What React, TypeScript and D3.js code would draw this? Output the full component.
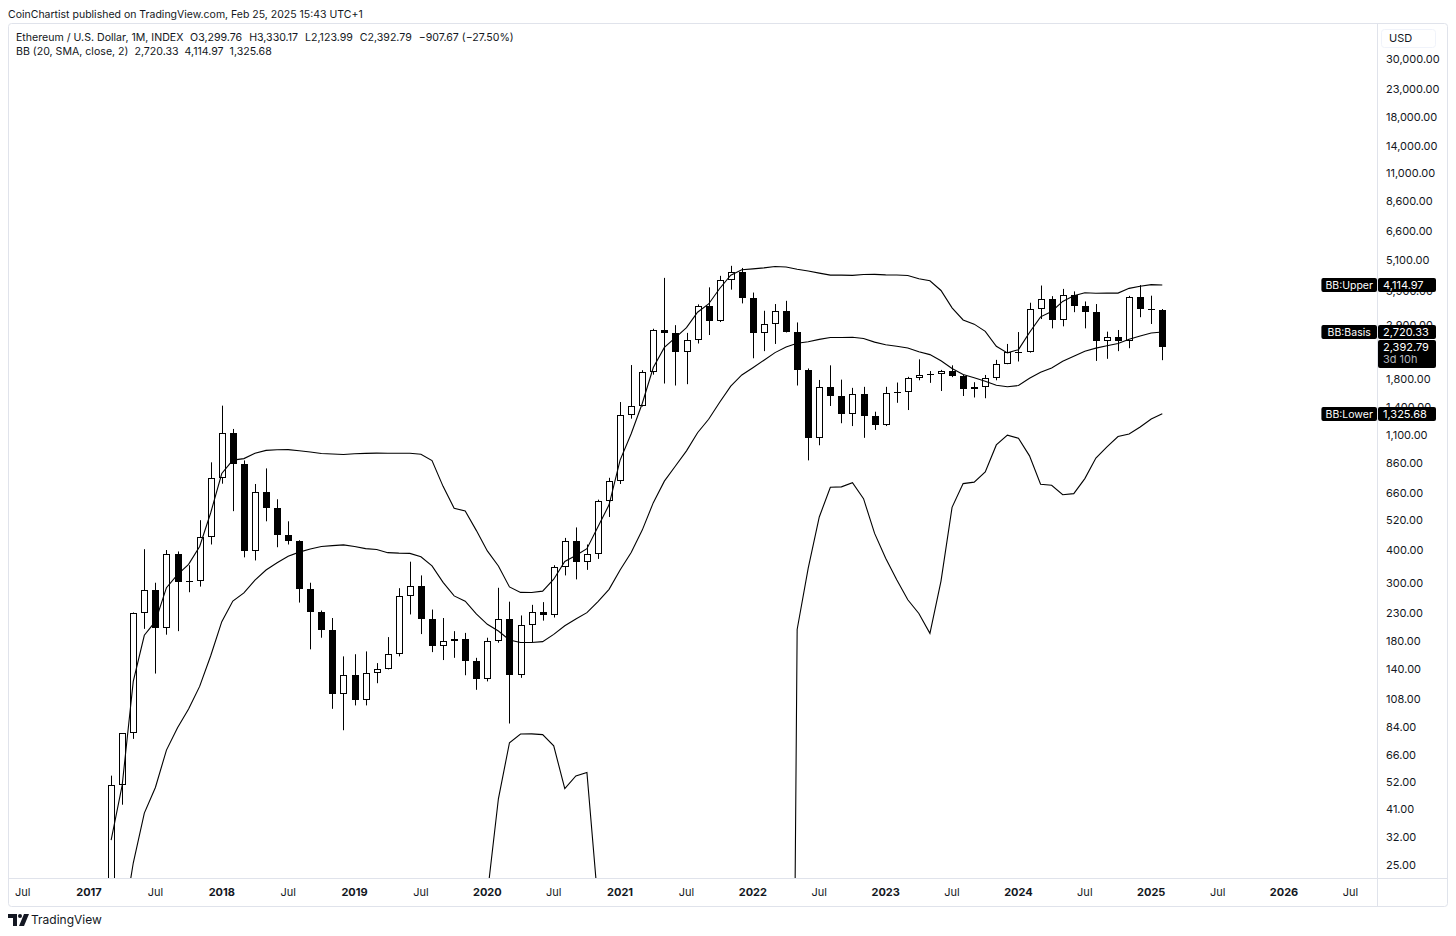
import React from "react";
import * as d3 from "d3";

// Monthly ETH/USD INDEX candles, first bar = Aug 2015
const FIRST_YEAR = 2015;
const FIRST_MONTH = 8;

const opens = [
  2.77, 1.35, 0.73, 0.9, 0.87,
  0.93, 2.17, 6.36, 11.41, 8.83, 14.16, 12.29, 12.5, 11.29, 13.17, 11.36, 8.8,
  8.17, 10.71, 15.79, 50.6, 79.8, 230, 282, 201, 387, 302, 305, 447,
  756, 1118, 855, 395, 669, 578, 455, 433, 283, 232, 198, 113,
  133, 107, 136, 141, 161, 268, 291, 218, 172, 180, 183, 151,
  129, 179, 218, 133, 206, 231, 226, 346, 434, 360, 386, 614,
  737, 1314, 1416, 1918, 2773, 2707, 2275, 2536, 3433, 3001, 4288, 4631,
  3683, 2688, 2922, 3282, 2727, 1942, 1067, 1678, 1553, 1328, 1572, 1296,
  1196, 1585, 1605, 1822, 1869, 1874, 1934, 1856, 1645, 1671, 1815, 2052,
  2282, 2283, 3340, 3646, 3014, 3762, 3432, 3232, 2513, 2603, 2519, 3706,
  3335, 3299.76,
];
const highs = [
  3.54, 1.4, 1.18, 1.05, 0.99,
  2.5, 6.7, 15.07, 11.76, 14.8, 21.52, 14.86, 12.6, 14.56, 13.26, 11.5, 9.2,
  11.5, 16.6, 55, 80, 231, 403, 300, 400, 395, 350, 520, 865,
  1424, 1160, 880, 715, 820, 625, 515, 436, 300, 235, 220, 157,
  160, 164, 148, 186, 286, 361, 320, 237, 220, 196, 193, 155,
  185, 287, 254, 225, 247, 253, 350, 445, 488, 420, 623, 755,
  1470, 2035, 1945, 2800, 4380, 2890, 2700, 3470, 4030, 4460, 4870, 4780,
  3850, 3280, 3480, 3580, 2960, 1975, 1785, 2030, 1790, 1665, 1680, 1350,
  1680, 1745, 1835, 2140, 1930, 1950, 2030, 1870, 1750, 1865, 2130, 2450,
  2720, 3520, 4095, 3730, 3975, 3890, 3560, 3480, 2730, 2770, 3740, 4110,
  3745, 3330.17,
];
const lows = [
  0.7, 0.58, 0.42, 0.77, 0.8,
  0.93, 2.1, 6.3, 6.97, 8.7, 10.8, 10.4, 10.5, 11.2, 10.4, 8.5, 6.34,
  7.9, 10.5, 15.5, 42.6, 76, 200, 135, 190, 196, 276, 290, 420,
  717, 563, 375, 365, 515, 410, 420, 252, 167, 185, 99, 82,
  102, 102, 124, 140, 157, 227, 191, 163, 152, 155, 133, 117,
  126, 177, 87, 130, 178, 215, 221, 320, 309, 336, 370, 535,
  715, 1270, 1413, 1870, 1730, 1700, 1720, 2460, 2650, 2970, 3950, 3500,
  2160, 2300, 2450, 2710, 1700, 880, 1005, 1420, 1220, 1190, 1073, 1150,
  1190, 1460, 1370, 1780, 1740, 1620, 1830, 1550, 1530, 1520, 1780, 2050,
  2100, 2270, 3050, 2810, 2860, 3240, 2810, 2110, 2150, 2300, 2360, 3100,
  2920, 2123.99,
];
const closes = [
  1.35, 0.73, 0.9, 0.87, 0.93,
  2.17, 6.36, 11.41, 8.83, 14.16, 12.29, 12.5, 11.29, 13.17, 11.36, 8.8, 8.17,
  10.71, 15.79, 50.6, 79.8, 230, 282, 201, 387, 302, 305, 447, 756,
  1118, 855, 395, 669, 578, 455, 433, 283, 232, 198, 113, 133,
  107, 136, 141, 161, 268, 291, 218, 172, 180, 183, 151, 129,
  179, 218, 133, 206, 231, 226, 346, 434, 360, 386, 614, 737,
  1314, 1416, 1918, 2773, 2707, 2275, 2536, 3433, 3001, 4288, 4631, 3683,
  2688, 2922, 3282, 2727, 1942, 1067, 1678, 1553, 1328, 1572, 1296, 1196,
  1585, 1605, 1822, 1869, 1874, 1934, 1856, 1645, 1671, 1815, 2052, 2282,
  2283, 3340, 3646, 3014, 3762, 3432, 3232, 2513, 2603, 2519, 3706, 3335,
  3299.76, 2392.79,
];

// Bollinger Bands settings from the legend: BB (20, SMA, close, 2)
const BB_LENGTH = 20;
const BB_MULT = 2;
const bbLegendValues = [2720.33, 4114.97, 1325.68]; // basis, upper, lower
const bbLabelNames = ["BB:Upper", "BB:Basis", "BB:Lower"];

const headerText = "CoinChartist published on TradingView.com, Feb 25, 2025 15:43 UTC+1";
const symbolText = "Ethereum / U.S. Dollar, 1M, INDEX";
const ohlcText = ["O3,299.76", "H3,330.17", "L2,123.99", "C2,392.79", "\u2212907.67 (\u221227.50%)"];
const bbText = "BB (20, SMA, close, 2)";
const countdownText = "3d 10h";

const yTickValues = [30000, 23000, 18000, 14000, 11000, 8600, 6600, 5100, 3900, 2900, 2300,
  1800, 1400, 1100, 860, 660, 520, 400, 300, 230, 180, 140, 108, 84, 66, 52, 41, 32, 25];

const xTickLabels = ["Jul", "2017", "Jul", "2018", "Jul", "2019", "Jul", "2020", "Jul", "2021",
  "Jul", "2022", "Jul", "2023", "Jul", "2024", "Jul", "2025", "Jul", "2026", "Jul"];
const X_TICK_FIRST_INDEX = 11; // Jul 2016
const X_TICK_STEP = 6;

const FONT = "Inter, 'Noto Sans', sans-serif";
const TXT = "#131722";

export default function App() {
  const W = 1456, H = 936;
  const plot = { left: 8, right: 1377, top: 24, bottom: 878 };

  // bar index -> x (Jan 2017 = index 17, Jan 2026 = index 125)
  const x = d3.scaleLinear().domain([17, 125]).range([89, 1284]);
  const y = d3.scaleLog().domain([22.36, 41570]).range([878, 22]);

  const fmt = d3.format(",.2f");

  // Bollinger bands derived from the closes (population stdev, as TradingView)
  const bands = closes
    .map((_, i) => {
      if (i < BB_LENGTH - 1) return null;
      const win = closes.slice(i - BB_LENGTH + 1, i + 1);
      const mean = d3.mean(win) as number;
      const sd = Math.sqrt(d3.mean(win, (v) => (v - mean) ** 2) as number);
      return { i, basis: mean, upper: mean + BB_MULT * sd, lower: mean - BB_MULT * sd };
    })
    .filter((d) => d !== null) as { i: number; basis: number; upper: number; lower: number }[];

  const safeY = (v: number) => y(Math.max(v, 1e-3));
  const lineFor = (key: "basis" | "upper" | "lower") =>
    d3.line<{ i: number; basis: number; upper: number; lower: number }>()
      .x((d) => x(d.i))
      .y((d) => safeY(d[key]))(bands) || "";

  const candles = closes.map((c, i) => {
    const o = opens[i];
    const cx = Math.round(x(i));
    const yO = Math.round(y(o));
    const yC = Math.round(y(c));
    const top = Math.min(yO, yC);
    const h = Math.max(1, Math.abs(yO - yC));
    return { i, cx, top, h, up: c >= o, yH: y(highs[i]), yL: y(lows[i]) };
  });

  const xTicks = xTickLabels.map((label, k) => ({
    label,
    x: x(X_TICK_FIRST_INDEX + k * X_TICK_STEP),
    bold: label !== "Jul",
  }));

  const [basisV, upperV, lowerV] = bbLegendValues;
  const labelRows = [
    { name: bbLabelNames[0], v: upperV },
    { name: bbLabelNames[1], v: basisV },
    { name: bbLabelNames[2], v: lowerV },
  ];
  const lastClose = closes[closes.length - 1];

  return (
    <svg
      width={W}
      height={H}
      style={{ position: "absolute", left: 0, top: 0, background: "#fff" }}
      fontFamily={FONT}
    >
      <defs>
        <clipPath id="plotClip">
          <rect x={plot.left} y={plot.top} width={plot.right - plot.left} height={plot.bottom - plot.top} />
        </clipPath>
      </defs>
      <rect x={0} y={0} width={W} height={H} fill="#fff" />

      {/* header */}
      <text x={8} y={14} dy="0.35em" fontSize={10.5} fill={TXT}>{headerText}</text>

      {/* frame */}
      <rect x={8.5} y={23.5} width={1439} height={883} rx={3} fill="none" stroke="#e0e3eb" />
      <line x1={plot.right + 0.5} x2={plot.right + 0.5} y1={24} y2={906} stroke="#e0e3eb" />
      <line x1={9} x2={1447} y1={plot.bottom + 0.5} y2={plot.bottom + 0.5} stroke="#e0e3eb" />

      {/* legend */}
      <g fontSize={10.6} fill={TXT}>
        <text x={16} y={37} dy="0.35em">
          {symbolText}
          {ohlcText.map((t, k) => (
            <tspan key={k} dx={7}>{t}</tspan>
          ))}
        </text>
        <text x={16} y={51} dy="0.35em">
          {bbText}
          {bbLegendValues.map((v, k) => (
            <tspan key={k} dx={6}>{fmt(v)}</tspan>
          ))}
        </text>
      </g>

      {/* plot content */}
      <g clipPath="url(#plotClip)">
        {candles.map((d) => (
          <g key={d.i}>
            <line x1={d.cx + 0.5} x2={d.cx + 0.5} y1={d.yH} y2={d.yL} stroke="#000" strokeWidth={1} />
            <rect
              x={d.cx - 2.5}
              y={d.top + 0.5}
              width={6}
              height={Math.max(d.h - 1, 0.01)}
              fill={d.up ? "#fff" : "#000"}
              stroke="#000"
              strokeWidth={1}
              shapeRendering="crispEdges"
            />
          </g>
        ))}
        {(["upper", "basis", "lower"] as const).map((k) => (
          <path key={k} d={lineFor(k)} fill="none" stroke="#000" strokeWidth={1.1} />
        ))}
      </g>

      {/* right price axis */}
      <g fontSize={11} fill={TXT}>
        <rect x={1381.5} y={29.5} width={54} height={18} rx={3} fill="#fff" stroke="#f0f3fa" />
        <text x={1389} y={38} dy="0.35em" fontSize={11}>USD</text>
        {yTickValues.map((v) => (
          <text key={v} x={1386} y={y(v)} dy="0.35em">{fmt(v)}</text>
        ))}
      </g>

      {/* BB and price labels */}
      {labelRows.map((r) => {
        const yy = Math.round(y(r.v));
        const nameW = r.name.length * 6.2 + 6;
        return (
          <g key={r.name}>
            <rect x={plot.right - nameW} y={yy - 7} width={nameW} height={14} rx={2} fill="#000" />
            <text x={plot.right - nameW / 2} y={yy} dy="0.35em" fontSize={10.5} fill="#fff" textAnchor="middle">{r.name}</text>
            <rect x={plot.right + 1} y={yy - 7} width={58} height={14} rx={2} fill="#000" />
            <text x={plot.right + 6} y={yy} dy="0.35em" fontSize={11} fill="#fff">{fmt(r.v)}</text>
          </g>
        );
      })}
      {(() => {
        const yy = Math.round(y(lastClose));
        return (
          <g>
            <rect x={plot.right + 1} y={yy - 7} width={58} height={28} rx={2} fill="#000" />
            <text x={plot.right + 6} y={yy} dy="0.35em" fontSize={11} fill="#fff">{fmt(lastClose)}</text>
            <text x={plot.right + 6} y={yy + 12} dy="0.35em" fontSize={11} fill="#b2b5be">{countdownText}</text>
          </g>
        );
      })()}

      {/* time axis */}
      <g fontSize={11} fill={TXT}>
        {xTicks.map((t, k) => (
          <text key={k} x={t.x} y={892} dy="0.35em" textAnchor="middle" fontWeight={t.bold ? 700 : 400}>
            {t.label}
          </text>
        ))}
      </g>

      {/* TradingView logo */}
      <g fill="#131722">
        <path d="M8 914 h9 v12 h-4 v-8 h-5 z" />
        <circle cx={20} cy={916} r={2} />
        <path d="M24 914 h5 l-5 12 h-5 z" />
        <text x={31} y={920} dy="0.35em" fontSize={12}>TradingView</text>
      </g>
    </svg>
  );
}
